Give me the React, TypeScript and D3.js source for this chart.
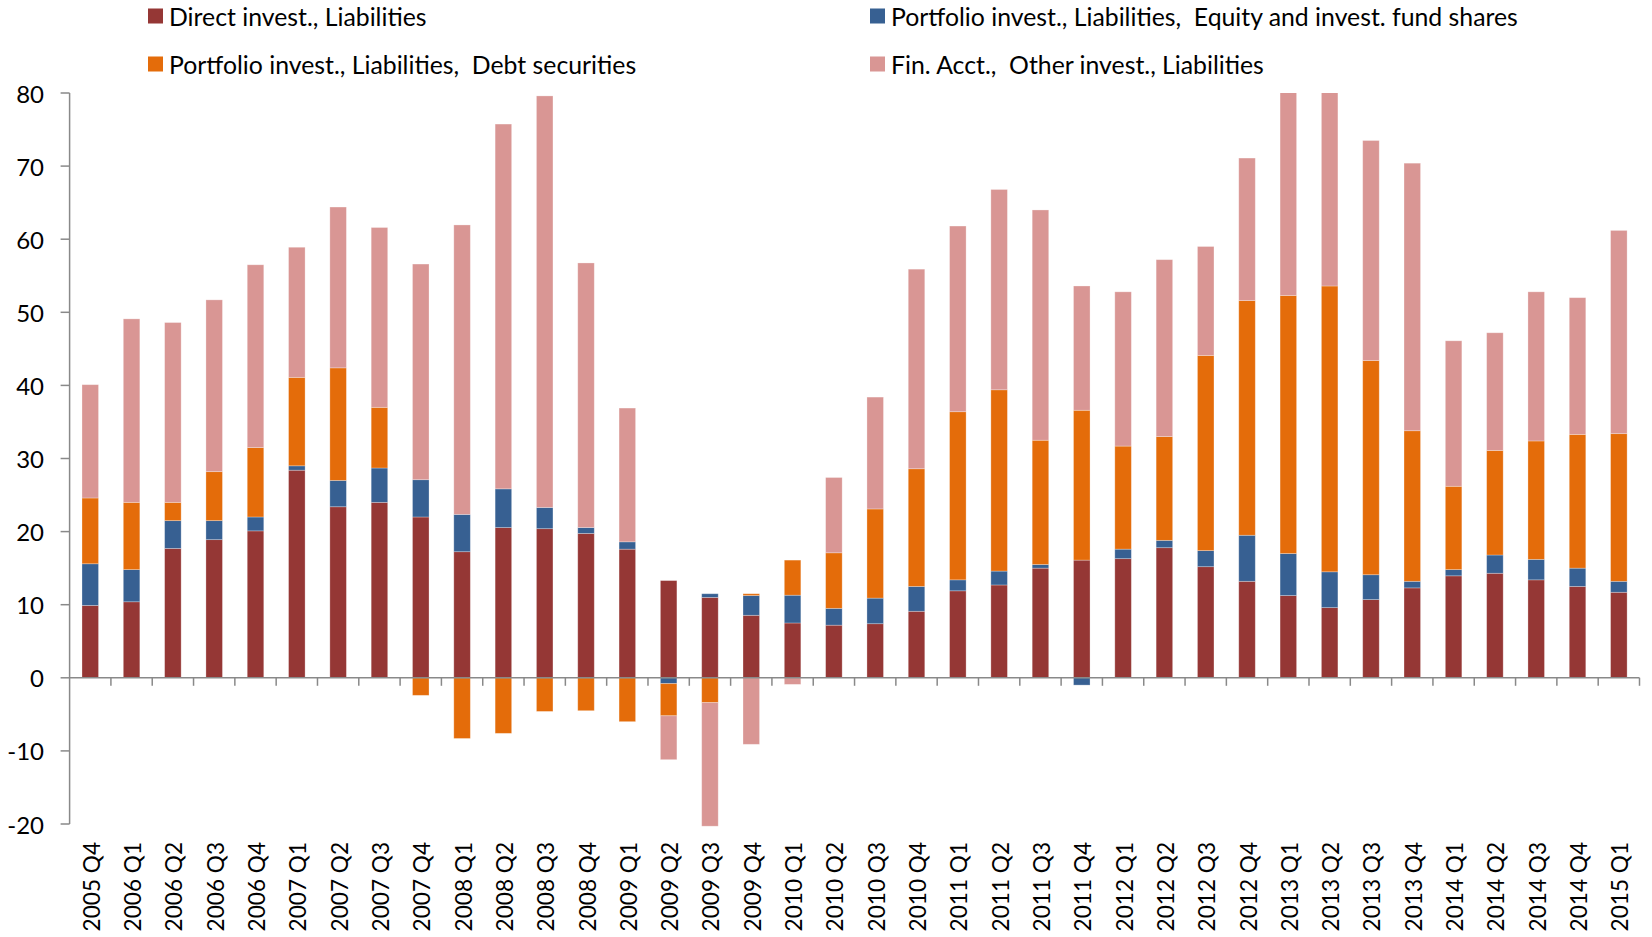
import React from 'react';
import * as d3 from 'd3';

const categories = [
  '2005 Q4', '2006 Q1', '2006 Q2', '2006 Q3', '2006 Q4', '2007 Q1', '2007 Q2', '2007 Q3', '2007 Q4',
  '2008 Q1', '2008 Q2', '2008 Q3', '2008 Q4', '2009 Q1', '2009 Q2', '2009 Q3', '2009 Q4',
  '2010 Q1', '2010 Q2', '2010 Q3', '2010 Q4', '2011 Q1', '2011 Q2', '2011 Q3', '2011 Q4',
  '2012 Q1', '2012 Q2', '2012 Q3', '2012 Q4', '2013 Q1', '2013 Q2', '2013 Q3', '2013 Q4',
  '2014 Q1', '2014 Q2', '2014 Q3', '2014 Q4', '2015 Q1',
];

const directInvest = [
  9.9, 10.4, 17.7, 18.9, 20.1, 28.4, 23.4, 24.0, 22.0, 17.25, 20.55, 20.4, 19.75, 17.6, 13.3, 11.0,
  8.55, 7.5, 7.2, 7.4, 9.1, 11.9, 12.7, 15.0, 16.1, 16.3, 17.8, 15.2, 13.2, 11.25, 9.6, 10.7, 12.3,
  13.95, 14.3, 13.4, 12.5, 11.7,
];

const portfolioEquity = [
  5.7, 4.4, 3.8, 2.6, 1.9, 0.6, 3.6, 4.7, 5.1, 5.1, 5.3, 2.9, 0.8, 1.0, -0.8, 0.5, 2.7, 3.8, 2.3,
  3.5, 3.4, 1.5, 1.9, 0.5, -1.0, 1.3, 1.0, 2.2, 6.3, 5.75, 4.9, 3.4, 0.9, 0.85, 2.5, 2.8, 2.5, 1.5,
];

const portfolioDebt = [
  9.0, 9.2, 2.5, 6.7, 9.5, 12.1, 15.4, 8.3, -2.4, -8.3, -7.6, -4.6, -4.5, -6.0, -4.4, -3.4, 0.25,
  4.8, 7.6, 12.2, 16.1, 23.0, 24.8, 17.0, 20.5, 14.1, 14.2, 26.7, 32.1, 35.3, 39.1, 29.3, 20.6,
  11.4, 14.3, 16.2, 18.3, 20.2,
];

const otherInvest = [
  15.5, 25.1, 24.6, 23.5, 25.0, 17.8, 22.0, 24.6, 29.5, 39.6, 49.9, 56.3, 36.2, 18.3, -6.0, -16.9,
  -9.1, -0.9, 10.3, 15.3, 27.3, 25.4, 27.4, 31.5, 17.0, 21.1, 24.2, 14.9, 19.5, 30.0, 30.0, 30.1,
  36.6, 19.9, 16.1, 20.4, 18.7, 27.8,
];

const yTicks = [-20, -10, 0, 10, 20, 30, 40, 50, 60, 70, 80];

const seriesKeys = ['direct', 'equity', 'debt', 'other'];
const seriesNames = [
  'Direct invest., Liabilities',
  'Portfolio invest., Liabilities,  Equity and invest. fund shares',
  'Portfolio invest., Liabilities,  Debt securities',
  'Fin. Acct.,  Other invest., Liabilities',
];
const seriesColors = ['#953735', '#376092', '#E46C0A', '#D99694'];

const FONT = 'Lato, "Open Sans", sans-serif';

export default function App() {
  const W = 1652;
  const H = 937;
  const left = 69.6;
  const right = 1639.5;
  const top = 93;
  const bottom = 824;

  const x = d3
    .scaleBand<string>()
    .domain(categories)
    .range([left, right])
    .paddingInner(0.6)
    .paddingOuter(0.3);
  const y = d3.scaleLinear().domain([-20, 80]).range([bottom, top]);

  const rows = categories.map((c, i) => ({
    cat: c,
    direct: directInvest[i],
    equity: portfolioEquity[i],
    debt: portfolioDebt[i],
    other: otherInvest[i],
  }));

  const stacked = d3
    .stack<any>()
    .keys(seriesKeys)
    .offset(d3.stackOffsetDiverging)(rows);

  const step = x.step();
  const y0 = y(0);
  const axisColor = '#898989';

  const legendPos = [
    { sx: 148, ty: 16 },
    { sx: 870, ty: 16 },
    { sx: 148, ty: 64 },
    { sx: 870, ty: 64 },
  ];

  return (
    <svg
      width={W}
      height={H}
      style={{ position: 'absolute', left: 0, top: 0, background: '#fff' }}
      fontFamily={FONT}
    >
      <defs>
        <clipPath id="plotClip">
          <rect x={0} y={top} width={W} height={H - top} />
        </clipPath>
      </defs>

      {/* legend */}
      {seriesNames.map((name, i) => (
        <g key={name}>
          <rect
            x={legendPos[i].sx}
            y={legendPos[i].ty - 7.5}
            width={15}
            height={15}
            fill={seriesColors[i]}
          />
          <text
            x={legendPos[i].sx + 21}
            y={legendPos[i].ty}
            dominantBaseline="central"
            fontSize={24.8}
            fill="#000"
            style={{ whiteSpace: 'pre' }}
          >
            {name}
          </text>
        </g>
      ))}

      {/* bars */}
      <g clipPath="url(#plotClip)">
        {stacked.map((s, si) => (
          <g key={seriesKeys[si]} fill={seriesColors[si]}>
            {s.map((d, i) => {
              const y1 = y(d[1]);
              const y2 = y(d[0]);
              const h = Math.abs(y2 - y1);
              if (h < 0.01) return null;
              return (
                <rect
                  key={i}
                  x={x(categories[i])}
                  y={Math.min(y1, y2)}
                  width={x.bandwidth()}
                  height={h}
                  stroke="#ffffff"
                  strokeOpacity={0.35}
                  strokeWidth={0.8}
                />
              );
            })}
          </g>
        ))}
      </g>

      {/* y axis */}
      <line x1={left} x2={left} y1={top} y2={bottom} stroke={axisColor} strokeWidth={1.5} />
      {yTicks.map((t) => (
        <g key={t}>
          <line x1={left - 9} x2={left} y1={y(t)} y2={y(t)} stroke={axisColor} strokeWidth={1.5} />
          <text
            x={44}
            y={y(t)}
            textAnchor="end"
            dominantBaseline="central"
            fontSize={24}
            fill="#000"
          >
            {t}
          </text>
        </g>
      ))}

      {/* x axis at zero */}
      <line x1={left} x2={right} y1={y0} y2={y0} stroke={axisColor} strokeWidth={1.5} />
      {categories.map((c, i) => (
        <line
          key={'t' + c}
          x1={left + (i + 1) * step}
          x2={left + (i + 1) * step}
          y1={y0}
          y2={y0 + 8}
          stroke={axisColor}
          strokeWidth={1.5}
        />
      ))}

      {/* x labels */}
      {categories.map((c) => {
        const cx = (x(c) as number) + x.bandwidth() / 2 + 1;
        const ty = 842;
        return (
          <text
            key={'l' + c}
            transform={`translate(${cx},${ty}) rotate(-90)`}
            textAnchor="end"
            dominantBaseline="central"
            fontSize={22.6}
            fill="#000"
          >
            {c}
          </text>
        );
      })}
    </svg>
  );
}
